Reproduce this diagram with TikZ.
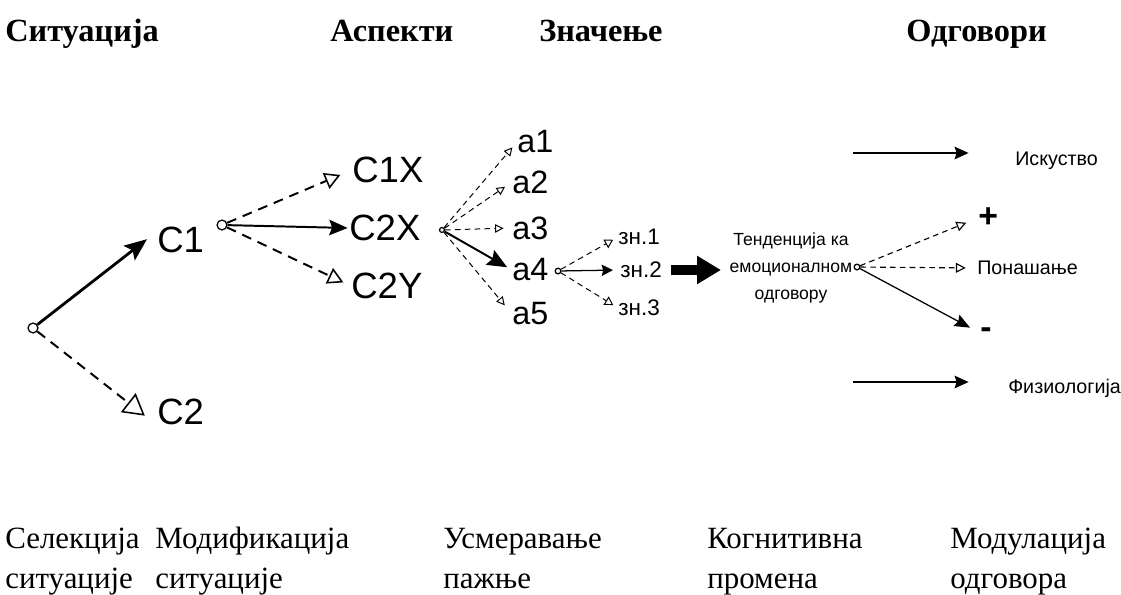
\documentclass[tikz,border=0pt]{standalone}
\usepackage{fontspec}
\setmainfont{Liberation Serif}
\setsansfont{Liberation Sans}
\usetikzlibrary{arrows.meta}

\begin{document}
\begin{tikzpicture}[x=0.025cm,y=-0.025cm]

      \useasboundingbox (0,0) rectangle (1121,594);

      \begin{scope}[every node/.style={anchor=base west, inner sep=0, font=\fontsize{23}{23}\selectfont\bfseries}]
        \node (t1) at (5,41)   {Ситуација};
        \node (t2) at (330,41) {Аспекти};
        \node (t3) at (539,41) {Значење};
        \node (t4) at (906,41) {Одговори};
      \end{scope}

      \begin{scope}[every node/.style={anchor=base west, inner sep=0, font=\fontsize{22}{22}\selectfont}]
        \node (b1) at (5,548)   {Селекција};
        \node (b2) at (5,588)   {ситуације};
        \node (b3) at (155,548) {Модификација};
        \node (b4) at (155,588) {ситуације};
        \node (b5) at (443,548) {Усмеравање};
        \node (b6) at (443,588) {пажње};
        \node (b7) at (707,548) {Когнитивна};
        \node (b8) at (707,588) {промена};
        \node (b9) at (950,548) {Модулација};
        \node (b10) at (950,588) {одговора};
      \end{scope}

      \begin{scope}[every node/.style={circle, draw, inner sep=0, line width=0.9pt}]
        \node[minimum size=7pt] (s)   at (33,328)  {};
        \node[minimum size=7pt] (c1o) at (222,225) {};
        \node[minimum size=3.5pt] (c2xo) at (442,230) {};
        \node[minimum size=4pt] (a4o) at (558,271) {};
        \node[minimum size=4pt] (tdo) at (857,267) {};
      \end{scope}

      \begin{scope}[every node/.style={anchor=west, inner sep=0, font=\sffamily\fontsize{26}{26}\selectfont}]
        \node (c1)  at (157,240) {C1};
        \node (c2)  at (157,412) {C2};
        \node (c1x) at (352,170) {C1X};
        \node (c2x) at (349,228) {C2X};
        \node (c2y) at (351,286) {C2Y};
      \end{scope}

      \begin{scope}[every node/.style={anchor=west, inner sep=0, font=\sffamily\fontsize{23}{23}\selectfont}]
        \node (a1) at (517,142) {a1};
        \node (a2) at (512,182) {a2};
        \node (a3) at (512,228) {a3};
        \node (a4) at (512,270) {a4};
        \node (a5) at (512,314) {a5};
      \end{scope}

      \begin{scope}[every node/.style={anchor=west, inner sep=0, font=\sffamily\fontsize{16}{16}\selectfont}]
        \node (zn1) at (618,237) {зн.1};
        \node (zn2) at (620,270) {зн.2};
        \node (zn3) at (618,308) {зн.3};
      \end{scope}

      \node[align=center, inner sep=0, font=\sffamily\fontsize{12.5}{19}\selectfont] (td) at (791,268)
        {Тенденција ка\\емоционалном\\одговору};

      \begin{scope}[every node/.style={inner sep=0, font=\sffamily\fontsize{14}{14}\selectfont}]
        \node[anchor=base west] (isk) at (1015,165) {Искуство};
        \node[anchor=west] (pon) at (977,268) {Понашање};
        \node[anchor=base west] (fiz) at (1008,393) {Физиологија};
        \node[anchor=west, font=\sffamily\bfseries\fontsize{24}{24}\selectfont] (pl) at (978,218) {+};
        \node[anchor=west, font=\sffamily\bfseries\fontsize{24}{24}\selectfont] (mi) at (980,333) {-};
      \end{scope}

      \coordinate (isk0) at (853,153);
      \coordinate (fiz0) at (853,382);

      \begin{scope}[every edge/.style={draw}]
        \path (s)    edge[line width=2pt, -{Stealth[length=16pt,width=13pt,inset=3pt]}, shorten >=9pt] (c1.160);
        \path (s)    edge[line width=1.4pt, dash pattern=on 7pt off 5pt, -{Triangle[open,length=15pt,width=17pt,line width=1.1pt]}, shorten >=11pt] (c2.south west);
        \path (c1o)  edge[line width=1.4pt, dash pattern=on 7pt off 5pt, -{Triangle[open,length=11pt,width=12pt,line width=1.1pt]}, shorten >=9pt] (c1x.west);
        \path (c1o)  edge[line width=1.4pt, -{Stealth[length=13pt,width=11pt,inset=2pt]}, shorten >=1pt] (c2x.west);
        \path (c1o)  edge[line width=1.4pt, dash pattern=on 7pt off 5pt, -{Triangle[open,length=11pt,width=12pt,line width=1.1pt]}, shorten >=6pt] (c2y.west);
        \path (c2xo) edge[line width=0.7pt, dash pattern=on 4pt off 3pt, -{Triangle[open,length=6pt,width=6pt,line width=0.7pt]}, shorten >=5pt] (a1.west);
        \path (c2xo) edge[line width=0.7pt, dash pattern=on 4pt off 3pt, -{Triangle[open,length=6pt,width=6pt,line width=0.7pt]}, shorten >=6pt] (a2.west);
        \path (c2xo) edge[line width=0.7pt, dash pattern=on 4pt off 3pt, -{Triangle[open,length=6pt,width=6pt,line width=0.7pt]}, shorten >=6pt] (a3.west);
        \path (c2xo) edge[line width=1.4pt, -{Stealth[length=14pt,width=12pt,inset=2pt]}, shorten >=4pt] (a4.west);
        \path (c2xo) edge[line width=0.7pt, dash pattern=on 4pt off 3pt, -{Triangle[open,length=6pt,width=6pt,line width=0.7pt]}, shorten >=8pt] (a5.west);
        \path (a4o)  edge[line width=0.7pt, dash pattern=on 4pt off 3pt, -{Triangle[open,length=6pt,width=7pt,line width=0.7pt]}, shorten >=4pt] (zn1.west);
        \path (a4o)  edge[line width=0.9pt, -{Stealth[length=8pt,width=8pt,inset=1pt]}, shorten >=5pt] (zn2.west);
        \path (a4o)  edge[line width=0.7pt, dash pattern=on 4pt off 3pt, -{Triangle[open,length=6pt,width=7pt,line width=0.7pt]}, shorten >=4pt] (zn3.west);
        \path (zn2.east) edge[line width=7pt, -{Triangle[length=17pt,width=19pt]}, shorten <=6pt, shorten >=6pt] (zn2.east -| td.west);
        \path (tdo)  edge[line width=0.8pt, dash pattern=on 4pt off 3pt, -{Triangle[open,length=7pt,width=7pt,line width=0.8pt]}, shorten >=9pt] (pl.west);
        \path (tdo)  edge[line width=0.8pt, dash pattern=on 4pt off 3pt, -{Triangle[open,length=7pt,width=7pt,line width=0.8pt]}, shorten >=8pt] (pon.west);
        \path (tdo)  edge[line width=0.9pt, -{Stealth[length=11pt,width=9pt,inset=1.5pt]}, shorten >=8pt] (mi.west);
        \path (isk0) edge[line width=1pt, -{Stealth[length=10pt,width=9pt,inset=1.5pt]}, shorten >=33pt] (isk0 -| isk.west);
        \path (fiz0) edge[line width=1pt, -{Stealth[length=10pt,width=9pt,inset=1.5pt]}, shorten >=28pt] (fiz0 -| fiz.west);
      \end{scope}

    \end{tikzpicture}
\end{document}
